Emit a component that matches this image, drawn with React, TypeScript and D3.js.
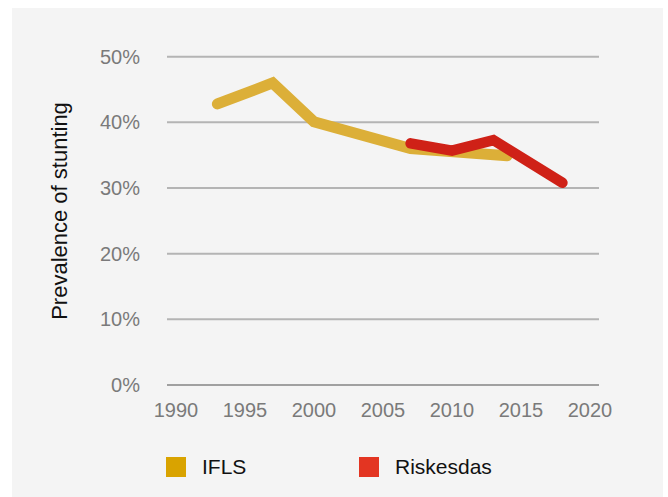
import React from "react";
import * as d3 from "d3";

const yTicks = [0, 10, 20, 30, 40, 50];
const xTicks = [1990, 1995, 2000, 2005, 2010, 2015, 2020];

const iflsYears = [1993, 1997, 2000, 2007, 2014];
const iflsValues = [42.8, 46.0, 40.1, 36.0, 34.9];

const riskYears = [2007, 2010, 2013, 2018];
const riskValues = [36.8, 35.7, 37.3, 30.8];

const seriesNames = ["IFLS", "Riskesdas"];
const lineColors = ["#dcaf38", "#cf2117"];
const legendColors = ["#d9a300", "#e33522"];

export default function App() {
  const W = 668;
  const H = 497;
  const x = d3.scaleLinear().domain([1990, 2020]).range([176, 590]);
  const y = d3.scaleLinear().domain([0, 50]).range([385, 56.7]);
  const gridX0 = 167;
  const gridX1 = 599;

  const line = d3
    .line<[number, number]>()
    .x((d) => x(d[0]))
    .y((d) => y(d[1]));

  const ifls: [number, number][] = iflsYears.map((yr, i) => [yr, iflsValues[i]]);
  const risk: [number, number][] = riskYears.map((yr, i) => [yr, riskValues[i]]);

  const font = "'Liberation Sans', Arial, Helvetica, sans-serif";

  return (
    <svg
      width={W}
      height={H}
      style={{ position: "absolute", left: 0, top: 0 }}
      fontFamily={font}
    >
      <rect x={0} y={0} width={W} height={H} fill="#ffffff" />
      <rect x={12} y={8} width={651} height={H - 8} fill="#f4f4f4" />

      {yTicks.map((t) => (
        <g key={t}>
          <line
            x1={gridX0}
            x2={gridX1}
            y1={y(t)}
            y2={y(t)}
            stroke={t === 0 ? "#a0a0a0" : "#b4b4b4"}
            strokeWidth={2}
          />
          <text
            x={140}
            y={y(t)}
            dy="0.35em"
            textAnchor="end"
            fontSize={20}
            fill="#7a7a7a"
          >
            {t}%
          </text>
        </g>
      ))}

      {xTicks.map((t) => (
        <text
          key={t}
          x={x(t)}
          y={417}
          textAnchor="middle"
          fontSize={20}
          fill="#7a7a7a"
        >
          {t}
        </text>
      ))}

      <text
        transform={`translate(67,211) rotate(-90)`}
        textAnchor="middle"
        fontSize={22}
        fill="#111"
      >
        Prevalence of stunting
      </text>

      <path
        d={line(ifls) || ""}
        fill="none"
        stroke={lineColors[0]}
        strokeWidth={11}
        strokeLinecap="round"
        strokeLinejoin="miter"
      />
      <path
        d={line(risk) || ""}
        fill="none"
        stroke={lineColors[1]}
        strokeWidth={10.5}
        strokeLinecap="round"
        strokeLinejoin="miter"
      />

      {seriesNames.map((name, i) => {
        const lx = i === 0 ? 166 : 359;
        return (
          <g key={name}>
            <rect x={lx} y={457} width={20} height={20} fill={legendColors[i]} />
            <text x={lx + 36} y={474} fontSize={21} fill="#111">
              {name}
            </text>
          </g>
        );
      })}
    </svg>
  );
}
